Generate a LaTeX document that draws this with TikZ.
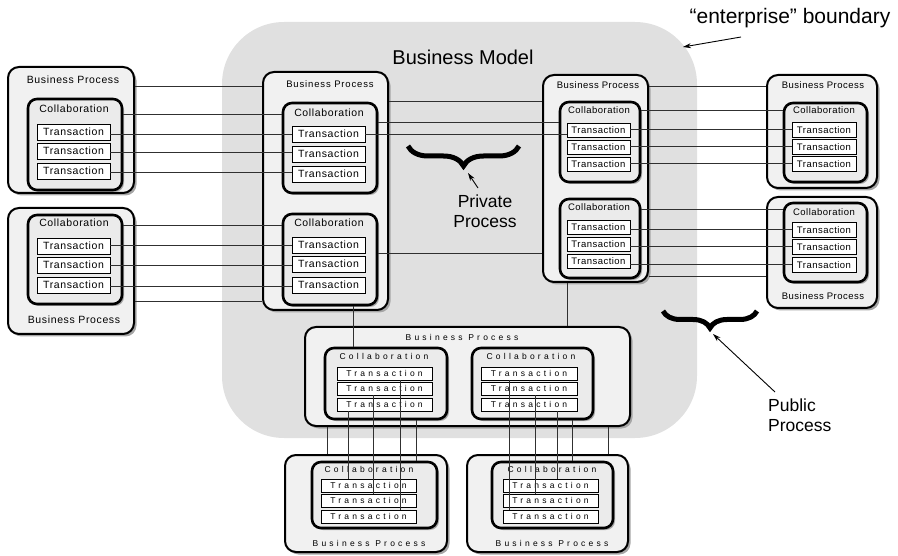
\documentclass[tikz,border=0pt]{standalone}
\usepackage{fontspec}
\setmainfont{Liberation Sans}
\usetikzlibrary{shadows,fit,decorations.pathreplacing,arrows.meta}

\definecolor{modelgray}{HTML}{E0E0E0}
\definecolor{procfill}{HTML}{F1F1F1}
\definecolor{collfill}{HTML}{EBEBEB}
\definecolor{shade}{HTML}{A6A6A6}
\definecolor{wirecol}{HTML}{303030}

% text sizes for the three box families
\newcommand\fA{\fontsize{10.5}{12}\selectfont\addfontfeature{LetterSpace=6}}
\newcommand\fP{\fontsize{9.5}{11}\selectfont\addfontfeature{LetterSpace=9}}
\newcommand\fB{\fontsize{9.5}{11}\selectfont\addfontfeature{LetterSpace=5}}
\newcommand\fC{\fontsize{8.5}{10}\selectfont\addfontfeature{LetterSpace=38}}
\newcommand\fBig{\fontsize{20}{24}\selectfont}
\newcommand\fEnt{\fontsize{21}{24}\selectfont}
\newcommand\fMid{\fontsize{17.5}{19.5}\selectfont}

% a transaction box: name, x, y, width, height, font
\newcommand\txn[6]{\node[txbox, minimum width=#4pt, minimum height=#5pt] (#1) at (#2,#3) {#6Transaction};}

\begin{document}
\begin{tikzpicture}[x=1pt,y=-1pt,
  procbox/.style={draw, line width=2pt, rounded corners=11pt, fill=procfill, inner sep=0pt,
    drop shadow={shadow xshift=2.5pt, shadow yshift=-2.5pt, fill=shade, opacity=1}},
  collbox/.style={draw, line width=2.6pt, rounded corners=9pt, fill=collfill, inner sep=0pt,
    drop shadow={shadow xshift=2pt, shadow yshift=-2pt, fill=shade, opacity=1}},
  txbox/.style={draw, line width=0.8pt, fill=white, inner sep=0pt},
  wire/.style={draw=wirecol, line width=0.9pt},
  pointer/.style={draw=black, line width=0.9pt, -{Stealth[length=8pt,width=5pt]}},
  bigbrace/.style={draw=black, line width=5pt, decorate},
  lbl/.style={inner sep=0pt}
]
\useasboundingbox (0,0) rectangle (898,556);

% enterprise area
\node[fill=modelgray, rounded corners=62pt, inner sep=0pt, fit={(222,22)(697,438)}] (model) {};
\node[lbl, font=\fBig] (modelLbl) at (463,57) {Business Model};

% ---- left, upper business process
\node[procbox, fit={(8,67)(134,193)}] (L1) {};
\node[lbl, font=\fA] (L1lbl) at (73,80) {Business Process};
\node[collbox, fit={(28,99)(122,190)}] (L1c) {};
\node[lbl, font=\fA] (L1clbl) at (74,109) {Collaboration};
\txn{L1t1}{73.5}{132}{73}{16}{\fA}
\txn{L1t2}{73.5}{151}{73}{16}{\fA}
\txn{L1t3}{73.5}{171}{73}{16}{\fA}

% ---- left, lower business process
\node[procbox, fit={(8,208)(134,334)}] (L2) {};
\node[collbox, fit={(28,215)(122,304)}] (L2c) {};
\node[lbl, font=\fA] (L2clbl) at (74,223) {Collaboration};
\txn{L2t1}{73.5}{246}{73}{16}{\fA}
\txn{L2t2}{73.5}{265}{73}{16}{\fA}
\txn{L2t3}{73.5}{285}{73}{16}{\fA}
\node[lbl, font=\fA] (L2lbl) at (74,320) {Business Process};

% ---- central business process
\node[procbox, fit={(263,72)(388,310)}] (C) {};
\node[lbl, font=\fP] (Clbl) at (330,84) {Business Process};
\node[collbox, fit={(283,103)(377,193)}] (C1) {};
\node[lbl, font=\fA] (C1lbl) at (329,113) {Collaboration};
\txn{C1t1}{328.5}{134}{73}{16}{\fA}
\txn{C1t2}{328.5}{154}{73}{16}{\fA}
\txn{C1t3}{328.5}{174}{73}{16}{\fA}
\node[collbox, fit={(283,214)(377,305)}] (C2) {};
\node[lbl, font=\fA] (C2lbl) at (329,223) {Collaboration};
\txn{C2t1}{328.5}{245}{73}{16}{\fA}
\txn{C2t2}{328.5}{264}{73}{16}{\fA}
\txn{C2t3}{328.5}{285}{73}{16}{\fA}

% ---- right-hand business process inside the enterprise
\node[procbox, fit={(543,75)(648,282)}] (R) {};
\node[lbl, font=\fB] (Rlbl) at (598,85) {Business Process};
\node[collbox, fit={(560,102)(640,182)}] (R1) {};
\node[lbl, font=\fB] (R1lbl) at (599,110) {Collaboration};
\txn{R1t1}{598.5}{130}{63}{14}{\fB}
\txn{R1t2}{598.5}{147}{63}{14}{\fB}
\txn{R1t3}{598.5}{164}{63}{14}{\fB}
\node[collbox, fit={(560,199)(640,278)}] (R2) {};
\node[lbl, font=\fB] (R2lbl) at (599,207) {Collaboration};
\txn{R2t1}{598.5}{227}{63}{14}{\fB}
\txn{R2t2}{598.5}{244}{63}{14}{\fB}
\txn{R2t3}{598.5}{261}{63}{14}{\fB}

% ---- far right, upper
\node[procbox, fit={(767,75)(877,188)}] (F1) {};
\node[lbl, font=\fB] (F1lbl) at (823,85) {Business Process};
\node[collbox, fit={(784,103)(867,182)}] (F1c) {};
\node[lbl, font=\fB] (F1clbl) at (824,110) {Collaboration};
\txn{F1t1}{824}{130}{64}{15}{\fB}
\txn{F1t2}{824}{147}{64}{15}{\fB}
\txn{F1t3}{824}{164}{64}{15}{\fB}

% ---- far right, lower
\node[procbox, fit={(767,197)(877,308)}] (F2) {};
\node[collbox, fit={(784,203)(867,282)}] (F2c) {};
\node[lbl, font=\fB] (F2clbl) at (824,212) {Collaboration};
\txn{F2t1}{824}{230}{64}{15}{\fB}
\txn{F2t2}{824}{247}{64}{15}{\fB}
\txn{F2t3}{824}{265}{64}{15}{\fB}
\node[lbl, font=\fB] (F2lbl) at (823,296) {Business Process};

% ---- bottom business process inside the enterprise
\node[procbox, fit={(305,327)(630,426)}] (B) {};
\node[lbl, font=\fC] (Blbl) at (462,337) {Business Process};
\node[collbox, fit={(325,348)(447,419)}] (BL) {};
\node[lbl, font=\fC] (BLlbl) at (384,356) {Collaboration};
\txn{BLt1}{384.5}{373.5}{95}{13}{\fC}
\txn{BLt2}{384.5}{388.5}{95}{13}{\fC}
\txn{BLt3}{384.5}{404.5}{95}{13}{\fC}
\node[collbox, fit={(472,348)(593,419)}] (BR) {};
\node[lbl, font=\fC] (BRlbl) at (531,356) {Collaboration};
\txn{BRt1}{529}{373.5}{96}{13}{\fC}
\txn{BRt2}{529}{388.5}{96}{13}{\fC}
\txn{BRt3}{529}{404.5}{96}{13}{\fC}

% ---- bottom partners
\node[procbox, fit={(285,455)(447,552)}] (D1) {};
\node[collbox, fit={(312,462)(437,528)}] (D1c) {};
\node[lbl, font=\fC] (D1clbl) at (369,469) {Collaboration};
\txn{D1t1}{368.5}{485.5}{95}{13}{\fC}
\txn{D1t2}{368.5}{500.5}{95}{13}{\fC}
\txn{D1t3}{368.5}{516.5}{95}{13}{\fC}
\node[lbl, font=\fC] (D1lbl) at (369,543) {Business Process};

\node[procbox, fit={(467,455)(628,552)}] (D2) {};
\node[collbox, fit={(492,462)(613,528)}] (D2c) {};
\node[lbl, font=\fC] (D2clbl) at (552,469) {Collaboration};
\txn{D2t1}{550.5}{485.5}{95}{13}{\fC}
\txn{D2t2}{550.5}{500.5}{95}{13}{\fC}
\txn{D2t3}{550.5}{516.5}{95}{13}{\fC}
\node[lbl, font=\fC] (D2lbl) at (552,543) {Business Process};

% ---- links: left partners to central process
\draw[wire] (L1.east |- 0,86) -- (C.west |- 0,86);
\draw[wire] (L1c.east |- 0,114) -- (C1.west |- 0,114);
\draw[wire] (L1t1.east |- 0,134) -- (C1t1.west |- 0,134);
\draw[wire] (L1t2.east |- 0,152) -- (C1t2.west |- 0,152);
\draw[wire] (L1t3.east |- 0,172) -- (C1t3.west |- 0,172);
\draw[wire] (L2c.east |- 0,225) -- (C2.west |- 0,225);
\draw[wire] (L2t1.east |- 0,245) -- (C2t1.west |- 0,245);
\draw[wire] (L2t2.east |- 0,265) -- (C2t2.west |- 0,265);
\draw[wire] (L2t3.east |- 0,286) -- (C2t3.west |- 0,286);
\draw[wire] (L2.east |- 0,301) -- (C.west |- 0,301);

% ---- central process to right-hand process
\draw[wire] (C.east |- 0,101) -- (R.west |- 0,101);
\draw[wire] (C1.east |- 0,122) -- (R1.west |- 0,122);
\draw[wire] (C1t1.east |- 0,134) -- (R1t1.west |- 0,134);
\draw[wire] (C2.east |- 0,253) -- (R.west |- 0,253);

% ---- right-hand process to far right partners
\draw[wire] (R.east |- 0,86) -- (F1.west |- 0,86);
\draw[wire] (R1.east |- 0,110) -- (F1c.west |- 0,110);
\draw[wire] (R1t1.east |- 0,129) -- (F1t1.west |- 0,129);
\draw[wire] (R1t2.east |- 0,146) -- (F1t2.west |- 0,146);
\draw[wire] (R1t3.east |- 0,163) -- (F1t3.west |- 0,163);
\draw[wire] (R2.east |- 0,209) -- (F2c.west |- 0,209);
\draw[wire] (R2t1.east |- 0,229) -- (F2t1.west |- 0,229);
\draw[wire] (R2t2.east |- 0,246) -- (F2t2.west |- 0,246);
\draw[wire] (R2t3.east |- 0,264) -- (F2t3.west |- 0,264);
\draw[wire] (R.east |- 0,276) -- (F2.west |- 0,276);

% ---- links into the bottom process
\draw[wire] (C2.south -| 353,0) -- (BL.north -| 353,0);
\draw[wire] (R.south -| 567,0) -- (B.north -| 567,0);

% ---- bottom process to bottom partners
\draw[wire] (B.south -| 327,0) -- (D1.north -| 327,0);
\draw[wire] (BLt3.south -| 348,0) -- (D1t1.north -| 348,0);
\draw[wire] (BLt2.south -| 373,0) -- (D1t2.north -| 373,0);
\draw[wire] (BLt1.south -| 400,0) -- (D1t3.north -| 400,0);
\draw[wire] (BL.south -| 416,0) -- (D1c.north -| 416,0);
\draw[wire] (BRt1.south -| 509,0) -- (D2t3.north -| 509,0);
\draw[wire] (BRt2.south -| 535,0) -- (D2t2.north -| 535,0);
\draw[wire] (BRt3.south -| 557,0) -- (D2t1.north -| 557,0);
\draw[wire] (BR.south -| 572,0) -- (D2c.north -| 572,0);
\draw[wire] (B.south -| 608,0) -- (D2.north -| 608,0);

% ---- annotations
\node[lbl, font=\fEnt] (entLbl) at (790,18) {“enterprise” boundary};
\coordinate (entTail) at (741,37);
\coordinate (entHead) at (683,47);
\draw[pointer] (entTail) -- (entHead);

\coordinate (privA) at (408,146);
\coordinate (privB) at (519,146);
\draw[bigbrace, decoration={brace, mirror, amplitude=20pt}] (privA) -- (privB);
\node[lbl, font=\fMid, align=center] (privLbl) at (485,211) {Private\\Process};
\coordinate (privTail) at (478,188);
\coordinate (privHead) at (468,173);
\draw[pointer] (privTail) -- (privHead);

\coordinate (pubA) at (663,311);
\coordinate (pubB) at (757,311);
\draw[bigbrace, decoration={brace, mirror, amplitude=17pt}] (pubA) -- (pubB);
\node[lbl, font=\fMid, align=left, anchor=west] (pubLbl) at (768,415) {Public\\Process};
\coordinate (pubTail) at (775,392);
\coordinate (pubHead) at (713,334);
\draw[pointer] (pubTail) -- (pubHead);
\end{tikzpicture}
\end{document}
